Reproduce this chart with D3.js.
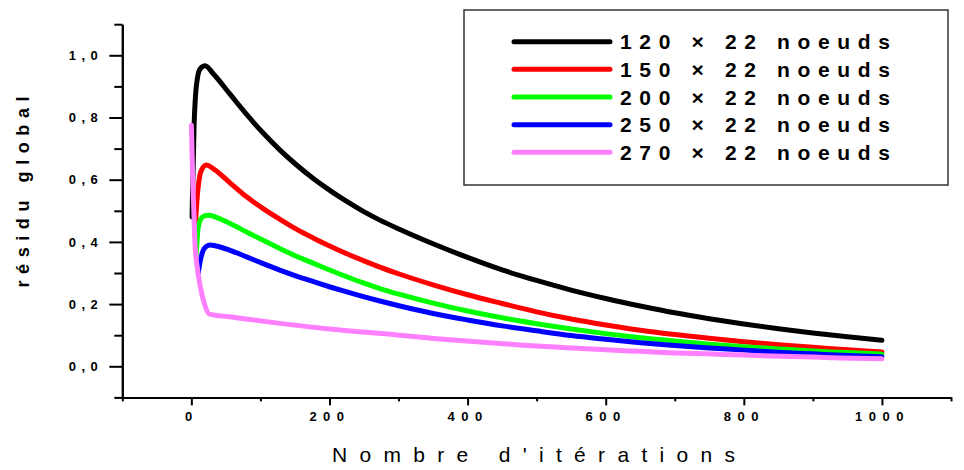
<!DOCTYPE html>
<html>
<head>
<meta charset="utf-8">
<script src="https://cdn.jsdelivr.net/npm/d3@7"></script>
<style>
  body { margin: 0; background: #fff; }
  svg { display: block; font-family: "Liberation Sans", Arial, sans-serif; }
</style>
</head>
<body>
<svg id="chart" width="964" height="470"></svg>
<script>
// series: iterations and global residual
const seriesNames = ["120 × 22 noeuds", "150 × 22 noeuds", "200 × 22 noeuds", "250 × 22 noeuds", "270 × 22 noeuds"];
const seriesColors = ["#000000", "#ff0000", "#00ff00", "#0000ff", "#ff80ff"];

const iter120 = [1, 4, 6, 9, 13, 20, 32, 56, 80, 104, 128, 152, 177, 201, 225, 249, 273, 302, 350, 400, 450, 500, 550, 600, 650, 700, 750, 800, 850, 900, 950, 1000];
const res120 = [0.48, 0.78, 0.87, 0.93, 0.957, 0.966, 0.94, 0.875, 0.81, 0.75, 0.696, 0.648, 0.603, 0.565, 0.53, 0.498, 0.47, 0.44, 0.394, 0.35, 0.31, 0.276, 0.245, 0.218, 0.194, 0.172, 0.153, 0.136, 0.121, 0.107, 0.095, 0.084];

const iter150 = [5, 8, 12, 17, 22, 32, 56, 80, 104, 128, 152, 177, 201, 225, 249, 273, 302, 350, 400, 450, 500, 550, 600, 650, 700, 750, 800, 850, 900, 950, 1000];
const res150 = [0.42, 0.53, 0.61, 0.64, 0.647, 0.635, 0.59, 0.545, 0.507, 0.473, 0.441, 0.412, 0.386, 0.362, 0.34, 0.319, 0.296, 0.262, 0.23, 0.202, 0.175, 0.152, 0.133, 0.116, 0.102, 0.09, 0.079, 0.069, 0.061, 0.053, 0.046];

const iter200 = [7, 10, 14, 19, 25, 35, 56, 80, 104, 128, 152, 177, 201, 225, 249, 273, 302, 350, 400, 450, 500, 550, 600, 650, 700, 750, 800, 850, 900, 950, 1000];
const res200 = [0.36, 0.448, 0.475, 0.484, 0.486, 0.48, 0.459, 0.432, 0.405, 0.379, 0.354, 0.331, 0.309, 0.288, 0.268, 0.25, 0.231, 0.203, 0.178, 0.156, 0.137, 0.12, 0.105, 0.092, 0.081, 0.071, 0.063, 0.056, 0.049, 0.044, 0.039];

const iter250 = [10, 13, 17, 22, 27, 36, 56, 80, 104, 128, 152, 177, 201, 225, 249, 273, 302, 350, 400, 450, 500, 550, 600, 650, 700, 750, 800, 850, 900, 950, 1000];
const res250 = [0.30, 0.34, 0.372, 0.386, 0.39, 0.387, 0.373, 0.352, 0.33, 0.309, 0.29, 0.272, 0.255, 0.239, 0.224, 0.21, 0.194, 0.17, 0.149, 0.13, 0.114, 0.099, 0.087, 0.076, 0.067, 0.059, 0.052, 0.045, 0.04, 0.035, 0.031];

const iter270 = [0, 2, 5, 9, 13, 19, 26, 56, 128, 200, 302, 360, 423, 480, 543, 600, 650, 700, 746, 800, 842, 900, 939, 1000];
const res270 = [0.775, 0.6, 0.405, 0.31, 0.255, 0.2, 0.168, 0.159, 0.138, 0.12, 0.1, 0.088, 0.077, 0.068, 0.06, 0.053, 0.048, 0.043, 0.04, 0.036, 0.033, 0.03, 0.027, 0.024];

const xTicks = [0, 200, 400, 600, 800, 1000];
const xMinorTicks = [-100, 100, 300, 500, 700, 900, 1100];
const yTicks = [0, 0.2, 0.4, 0.6, 0.8, 1.0];
const yMinorTicks = [-0.1, 0.1, 0.3, 0.5, 0.7, 0.9, 1.1];

const allIters = [iter120, iter150, iter200, iter250, iter270];
const allRes = [res120, res150, res200, res250, res270];

const svg = d3.select("#chart");

const x = d3.scaleLinear().domain([-100, 1100]).range([122.3, 951]);
const y = d3.scaleLinear().domain([-0.1, 1.1]).range([397.4, 24.2]);

const commaFmt = (d) => d3.format(".1f")(d).replace(".", ",");

// y axis (major + minor ticks)
const yAxis = svg.append("g").attr("transform", `translate(${x(-100)},0)`)
  .call(d3.axisLeft(y).tickValues(yTicks).tickSize(13).tickSizeOuter(0).tickPadding(6).tickFormat(commaFmt));
svg.append("g").attr("transform", `translate(${x(-100)},0)`)
  .call(d3.axisLeft(y).tickValues(yMinorTicks).tickSize(8).tickSizeOuter(0).tickFormat(""));

// x axis (major + minor ticks)
const xAxis = svg.append("g").attr("transform", `translate(0,${y(-0.1)})`)
  .call(d3.axisBottom(x).tickValues(xTicks).tickSize(8).tickSizeOuter(0).tickPadding(6).tickFormat(d3.format("d")));
svg.append("g").attr("transform", `translate(0,${y(-0.1)})`)
  .call(d3.axisBottom(x).tickValues(xMinorTicks).tickSize(4).tickSizeOuter(0).tickFormat(""));

svg.selectAll(".domain").attr("stroke", "#000").attr("stroke-width", 2);
svg.selectAll(".tick line").attr("stroke", "#000").attr("stroke-width", 2);
yAxis.selectAll("text").attr("font-size", 13).attr("font-weight", "bold").attr("letter-spacing", 5.5).attr("fill", "#000");
xAxis.selectAll("text").attr("font-size", 13).attr("font-weight", "bold").attr("letter-spacing", 6.5).attr("fill", "#000");

// axis titles
svg.append("text")
  .attr("transform", "translate(29,192) rotate(-90)")
  .attr("text-anchor", "middle")
  .attr("font-size", 18).attr("font-weight", "bold")
  .attr("textLength", 191).attr("lengthAdjust", "spacing")
  .text("résidu global");

svg.append("text")
  .attr("x", 332).attr("y", 462)
  .attr("font-size", 21)
  .attr("textLength", 403).attr("lengthAdjust", "spacing")
  .text("Nombre d'itérations");

// curves
const line = d3.line().x((d) => x(d[0])).y((d) => y(d[1])).curve(d3.curveMonotoneX);

allIters.forEach((its, i) => {
  const pts = its.map((t, j) => [t, allRes[i][j]]);
  svg.append("path")
    .datum(pts)
    .attr("fill", "none")
    .attr("stroke", seriesColors[i])
    .attr("stroke-width", 5)
    .attr("stroke-linecap", "round")
    .attr("stroke-linejoin", "round")
    .attr("d", line);
});

// legend
const legend = svg.append("g");
legend.append("rect")
  .attr("x", 464).attr("y", 10).attr("width", 484).attr("height", 175)
  .attr("fill", "#fff").attr("stroke", "#333").attr("stroke-width", 1.5);

seriesNames.forEach((name, i) => {
  const ly = 41.7 + i * 27.65;
  legend.append("line")
    .attr("x1", 514).attr("x2", 610).attr("y1", ly).attr("y2", ly)
    .attr("stroke", seriesColors[i]).attr("stroke-width", 5).attr("stroke-linecap", "round");
  legend.append("text")
    .attr("x", 620).attr("y", ly + 7.5)
    .attr("font-size", 21).attr("font-weight", "bold")
    .attr("textLength", 270).attr("lengthAdjust", "spacing")
    .text(name);
});
</script>
</body>
</html>
